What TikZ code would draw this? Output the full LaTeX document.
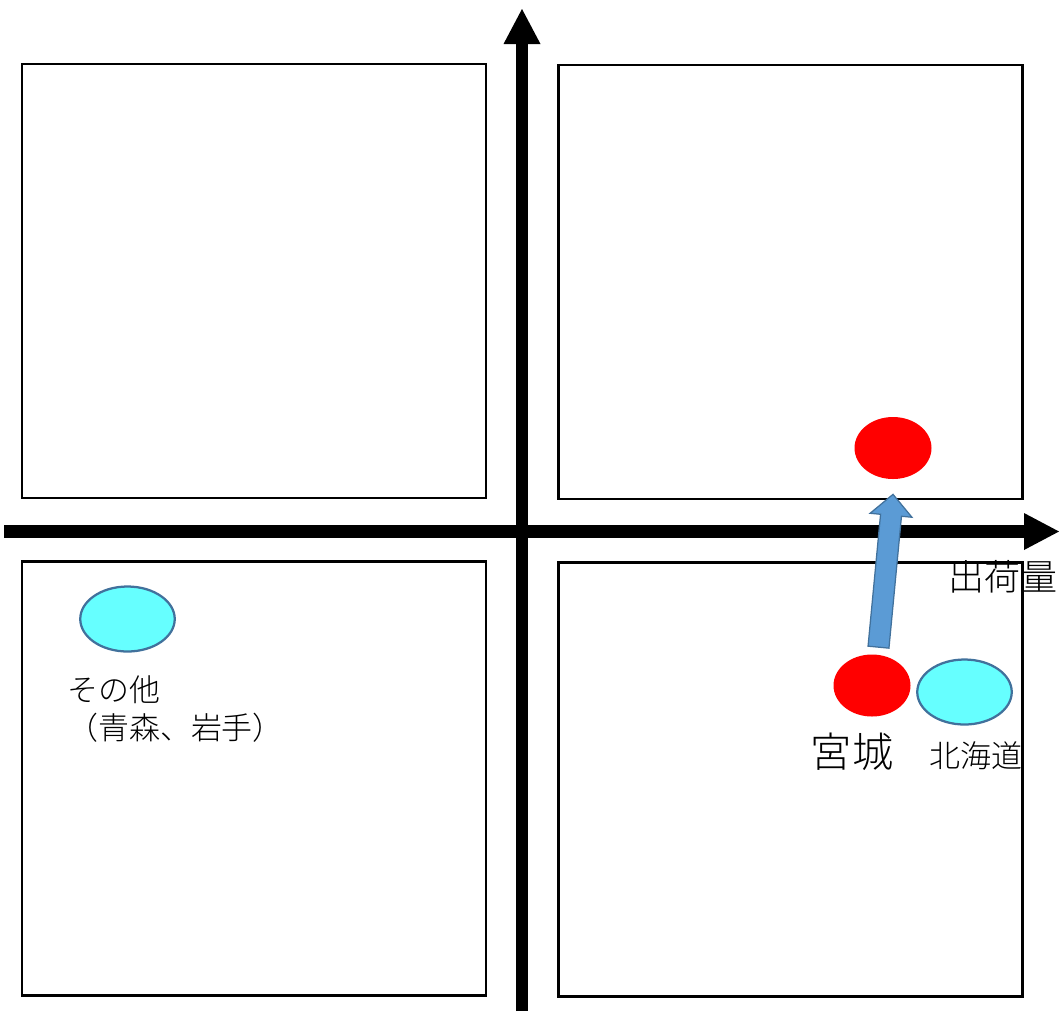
\documentclass[tikz,border=0pt]{standalone}
\usepackage{fontspec}
\setmainfont{Noto Sans CJK JP}[UprightFont={* Light}]
\usepackage{tikz}
\usetikzlibrary{arrows.meta, calc, shapes.geometric}
\definecolor{ptred}{HTML}{FF0000}
\definecolor{ptcyan}{HTML}{66FFFF}
\definecolor{ptedge}{HTML}{41719C}
\definecolor{arrblue}{HTML}{5B9BD5}

\begin{document}
\begin{tikzpicture}[
        x=0.2mm, y=-0.2mm,
        quad/.style={rectangle, draw=black, line width=0.5mm, minimum width=92.8mm,
                     minimum height=86.8mm, inner sep=0pt},
        axis/.style={line width=2.5mm, -{Triangle[length=7mm, width=7.4mm, line width=0pt]}},
        redpt/.style={ellipse, fill=ptred, minimum width=15.4mm, minimum height=12.4mm,
                      inner sep=0pt},
        cyanpt/.style={ellipse, draw=ptedge, line width=0.45mm, fill=ptcyan,
                       minimum width=18.9mm, minimum height=13mm, inner sep=0pt},
        blockarr/.style={fill=arrblue, draw=ptedge, line width=0.25mm, line join=miter},
        lbl/.style={inner sep=0pt, text=black}
    ]
        \useasboundingbox (0,0) rectangle (1059,1011);

        % quadrants
        \node[quad] (q2) at (254,281) {};
        \node[quad] (q1) at (790.5,282) {};
        \node[quad] (q3) at (254,778.5) {};
        \node[quad] (q4) at (790.5,779.5) {};

        % axes
        \coordinate (ybot) at (522,1011);
        \coordinate (ytop) at (522,9);
        \coordinate (xleft) at (4,531.5);
        \coordinate (xright) at (1059,531.5);
        \draw[axis] (ybot) -- (ytop);
        \draw[axis] (xleft) -- (xright);
        \node[lbl, font=\fontsize{20.5}{24}\selectfont] (xlbl) at (1003,577) {出荷量};

        % points
        \node[redpt] (miyagiA) at (893,448) {};
        \node[redpt] (miyagiB) at (872,685.5) {};
        \node[cyanpt] (hokkaido) at (964.5,692) {};
        \node[cyanpt] (others) at (127.5,619) {};

        \node[lbl, font=\fontsize{23.5}{28}\selectfont] (miyagiL) at (852,752) {宮城};
        \node[lbl, font=\fontsize{17.6}{21}\selectfont] (hokkaidoL) at (976,756) {北海道};
        \node[lbl, font=\fontsize{17.6}{22}\selectfont, align=left, anchor=west]
            (othersL) at (67,709) {その他\\（青森、岩手）};

        % move of Miyagi
        \coordinate (p0) at ($(miyagiB.north)+(6.5,-7)$);
        \coordinate (p1) at ($(miyagiA.south)+(0,15)$);
        \coordinate (ph) at ($(p1)!4.2mm!(p0)$);
        \draw[blockarr] ($(p0)!2.1mm!90:(p1)$) -- ($(ph)!2.1mm!-90:(p0)$)
            -- ($(ph)!4.2mm!-90:(p0)$) -- (p1) -- ($(ph)!4.2mm!90:(p0)$)
            -- ($(ph)!2.1mm!90:(p0)$) -- ($(p0)!2.1mm!-90:(p1)$) -- cycle;
    \end{tikzpicture}
\end{document}
